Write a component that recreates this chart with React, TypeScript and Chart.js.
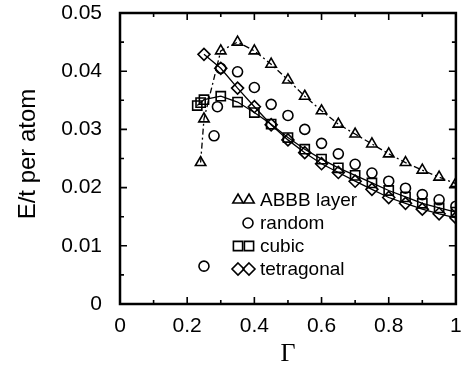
import React, { useEffect, useRef } from "react";
import { Chart, registerables } from "chart.js";

Chart.register(...registerables);

const abbbX = [0.24, 0.25, 0.3, 0.35, 0.4, 0.45, 0.5, 0.55, 0.6, 0.65, 0.7, 0.75, 0.8, 0.85, 0.9, 0.95, 1.0];
const abbbY = [0.0243, 0.0318, 0.0435, 0.045, 0.0435, 0.0412, 0.0385, 0.0357, 0.0332, 0.0309, 0.0292, 0.0275, 0.0258, 0.0243, 0.023, 0.0218, 0.0207];

const randomX = [0.25, 0.28, 0.29, 0.3, 0.35, 0.4, 0.45, 0.5, 0.55, 0.6, 0.65, 0.7, 0.75, 0.8, 0.85, 0.9, 0.95, 1.0];
const randomY = [0.0065, 0.0289, 0.0339, 0.0405, 0.0399, 0.0372, 0.0343, 0.0324, 0.03, 0.0276, 0.0258, 0.024, 0.0225, 0.0211, 0.0199, 0.0188, 0.0179, 0.0168];

const cubicX = [0.23, 0.24, 0.25, 0.3, 0.35, 0.4, 0.45, 0.5, 0.55, 0.6, 0.65, 0.7, 0.75, 0.8, 0.85, 0.9, 0.95, 1.0];
const cubicY = [0.0341, 0.0346, 0.0351, 0.0357, 0.0347, 0.0329, 0.0309, 0.0286, 0.0266, 0.0249, 0.0234, 0.0221, 0.0208, 0.0195, 0.0184, 0.0173, 0.0165, 0.0158];

const tetraX = [0.25, 0.3, 0.35, 0.4, 0.45, 0.5, 0.55, 0.6, 0.65, 0.7, 0.75, 0.8, 0.85, 0.9, 0.95, 1.0];
const tetraY = [0.0429, 0.0405, 0.0371, 0.0339, 0.0308, 0.0282, 0.026, 0.0241, 0.0226, 0.0211, 0.0197, 0.0183, 0.0173, 0.0163, 0.0155, 0.0148];

const seriesNames = ["ABBB layer", "random", "cubic", "tetragonal"];
const xTicks = [0, 0.2, 0.4, 0.6, 0.8, 1];
const yTicks = [0, 0.01, 0.02, 0.03, 0.04, 0.05];
const xTitle = "Γ";
const yTitle = "E/t per atom";

const SANS = "'Liberation Sans', Arial, sans-serif";
const SERIF = "'Liberation Serif', 'Times New Roman', serif";

function pts(xs: number[], ys: number[]) {
  return xs.map((x, i) => ({ x, y: ys[i] }));
}

function drawMarker(ctx: CanvasRenderingContext2D, style: string, x: number, y: number, r: number) {
  ctx.beginPath();
  if (style === "triangle") {
    for (let k = 0; k < 3; k++) {
      const a = (k * 2 * Math.PI) / 3;
      const px = x + Math.sin(a) * r;
      const py = y - Math.cos(a) * r;
      if (k === 0) ctx.moveTo(px, py);
      else ctx.lineTo(px, py);
    }
    ctx.closePath();
  } else if (style === "circle") {
    ctx.arc(x, y, r, 0, Math.PI * 2);
  } else if (style === "rect") {
    const s = Math.SQRT1_2 * r;
    ctx.rect(x - s, y - s, 2 * s, 2 * s);
  } else if (style === "rectRot") {
    ctx.moveTo(x, y - r);
    ctx.lineTo(x + r, y);
    ctx.lineTo(x, y + r);
    ctx.lineTo(x - r, y);
    ctx.closePath();
  }
  ctx.stroke();
}

const framePlugin = {
  id: "frame",
  afterDraw(chart: any) {
    const { ctx, chartArea } = chart;
    const xs = chart.scales.x;
    const ys = chart.scales.y;
    const { left, right, top, bottom } = chartArea;
    ctx.save();
    ctx.strokeStyle = "#000";
    ctx.lineWidth = 1.6;
    for (let i = 0; i <= 10; i++) {
      const v = i / 10;
      const px = xs.getPixelForValue(v);
      const len = i % 2 === 0 ? 7 : 4;
      ctx.beginPath();
      ctx.moveTo(px, bottom);
      ctx.lineTo(px, bottom - len);
      ctx.moveTo(px, top);
      ctx.lineTo(px, top + len);
      ctx.stroke();
    }
    for (let i = 0; i <= 10; i++) {
      const v = i * 0.005;
      const py = ys.getPixelForValue(v);
      const len = i % 2 === 0 ? 7 : 4;
      ctx.beginPath();
      ctx.moveTo(left, py);
      ctx.lineTo(left + len, py);
      ctx.moveTo(right, py);
      ctx.lineTo(right - len, py);
      ctx.stroke();
    }
    ctx.lineWidth = 2.5;
    ctx.strokeRect(left, top, right - left, bottom - top);

    ctx.fillStyle = "#000";
    ctx.textAlign = "center";
    ctx.textBaseline = "middle";
    ctx.font = `26px ${SERIF}`;
    ctx.fillText(xTitle, (left + right) / 2, 354);
    ctx.save();
    ctx.translate(28, 154);
    ctx.rotate(-Math.PI / 2);
    ctx.font = `24px ${SANS}`;
    ctx.fillText(yTitle, 0, 0);
    ctx.restore();

    const styles = ["triangle", "circle", "rect", "rectRot"];
    const radii = [6, 5, 6.5, 6];
    const lx = 260;
    const ly0 = 200;
    ctx.font = `19px ${SANS}`;
    ctx.textAlign = "left";
    ctx.lineWidth = 1.6;
    seriesNames.forEach((name, i) => {
      const y = ly0 + i * 23;
      ctx.fillText(name, lx, y + 1);
      if (i === 1) {
        drawMarker(ctx, styles[i], lx - 12, y, radii[i]);
      } else {
        drawMarker(ctx, styles[i], lx - 22, y, radii[i]);
        drawMarker(ctx, styles[i], lx - 11, y, radii[i]);
      }
    });
    ctx.restore();
  },
};

export default function App() {
  const ref = useRef<HTMLCanvasElement | null>(null);
  useEffect(() => {
    if (!ref.current) return;
    const common = {
      borderColor: "#000",
      pointBorderColor: "#000",
      pointBackgroundColor: "rgba(0,0,0,0)",
      pointBorderWidth: 1.6,
      borderWidth: 1.3,
      showLine: true,
    };
    const chart = new Chart(ref.current, {
      type: "scatter",
      data: {
        datasets: [
          { ...common, label: seriesNames[0], data: pts(abbbX, abbbY), pointStyle: "triangle", pointRadius: 6, borderDash: [6, 3, 2, 3] },
          { ...common, label: seriesNames[1], data: pts(randomX, randomY), pointStyle: "circle", pointRadius: 5, showLine: false },
          { ...common, label: seriesNames[2], data: pts(cubicX, cubicY), pointStyle: "rect", pointRadius: 6.5 },
          { ...common, label: seriesNames[3], data: pts(tetraX, tetraY), pointStyle: "rectRot", pointRadius: 6 },
        ],
      },
      options: {
        animation: false,
        responsive: true,
        maintainAspectRatio: false,
        layout: { padding: { top: 13, right: 4, left: 0, bottom: 0 } },
        plugins: { legend: { display: false }, tooltip: { enabled: false } },
        scales: {
          x: {
            type: "linear",
            min: 0,
            max: 1,
            grid: { display: false, drawTicks: false },
            border: { display: false },
            afterBuildTicks: (s: any) => {
              s.ticks = xTicks.map((v) => ({ value: v }));
            },
            afterFit: (s: any) => {
              s.height = 64;
              s.paddingLeft = 0;
              s.paddingRight = 0;
            },
            ticks: {
              color: "#000",
              font: { family: SANS, size: 21 },
              padding: 10,
              maxRotation: 0,
              autoSkip: false,
              callback: (v: any) => String(Number(Number(v).toFixed(2))),
            },
          },
          y: {
            type: "linear",
            min: 0,
            max: 0.05,
            grid: { display: false, drawTicks: false },
            border: { display: false },
            afterBuildTicks: (s: any) => {
              s.ticks = yTicks.map((v) => ({ value: v }));
            },
            afterFit: (s: any) => {
              s.width = 120;
              s.paddingTop = 0;
              s.paddingBottom = 0;
            },
            ticks: {
              color: "#000",
              font: { family: SANS, size: 21 },
              padding: 18,
              autoSkip: false,
              callback: (v: any) => String(Number(Number(v).toFixed(3))),
            },
          },
        },
      },
      plugins: [framePlugin],
    });
    return () => chart.destroy();
  }, []);
  return (
    <div style={{ position: "fixed", left: 0, top: 0, width: 464, height: 368, background: "#fff" }}>
      <canvas ref={ref} />
    </div>
  );
}
